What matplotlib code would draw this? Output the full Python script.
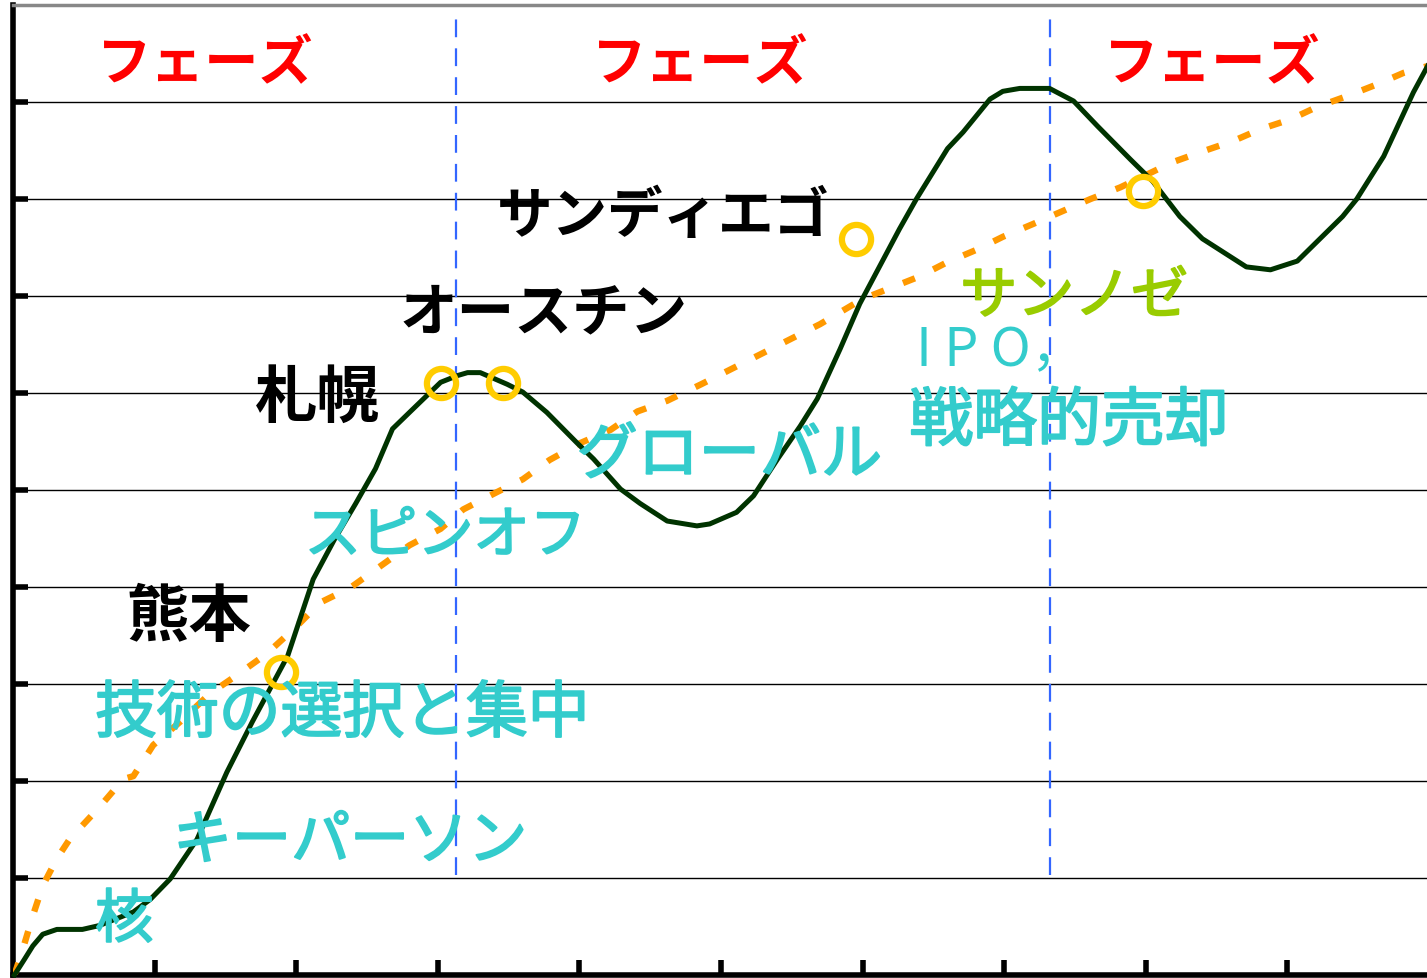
import matplotlib.pyplot as plt
import matplotlib.patheffects as pe

plt.rcParams['font.family'] = ['Noto Sans CJK JP', 'DejaVu Sans']

# growth curve (dark green)
growth_x = [0.01, 0.08, 0.14, 0.21, 0.31, 0.49, 0.61, 0.85, 0.97, 1.11, 1.30, 1.51,
            1.69, 1.94, 2.12, 2.27, 2.42, 2.56, 2.68, 2.80, 3.02, 3.14, 3.21, 3.30,
            3.49, 3.60, 3.77, 3.98, 4.10, 4.29, 4.43, 4.62, 4.83, 4.92, 5.11, 5.23,
            5.40, 5.56, 5.68, 5.84, 5.98, 6.10, 6.26, 6.38, 6.60, 6.71, 6.90, 6.99,
            7.11, 7.32, 7.49, 7.66, 7.89, 8.05, 8.24, 8.40, 8.71, 8.88, 9.07, 9.39,
            9.49, 9.68, 9.89, 9.99]
growth_y = [0.00, 0.16, 0.30, 0.42, 0.47, 0.47, 0.51, 0.65, 0.78, 0.99, 1.40, 2.09,
            2.61, 3.29, 4.08, 4.49, 4.86, 5.22, 5.63, 5.80, 6.11, 6.18, 6.21, 6.21,
            6.09, 6.01, 5.80, 5.49, 5.32, 5.01, 4.86, 4.68, 4.63, 4.65, 4.77, 4.94,
            5.32, 5.66, 5.94, 6.45, 6.92, 7.25, 7.69, 8.00, 8.52, 8.69, 9.03, 9.11,
            9.14, 9.14, 9.01, 8.75, 8.41, 8.18, 7.82, 7.59, 7.30, 7.27, 7.36, 7.82,
            8.00, 8.44, 9.10, 9.37]

# trend line (orange, dotted)
trend_x = [0.01, 0.07, 0.14, 0.21, 0.31, 0.40, 0.61, 0.78, 0.85, 0.99, 1.18, 1.39,
           1.58, 1.79, 2.00, 2.17, 2.38, 2.59, 2.80, 3.02, 3.18, 3.42, 3.60, 3.79,
           4.00, 4.22, 4.41, 4.62, 4.86, 5.28, 5.70, 6.00, 6.21, 6.40, 6.60, 6.81,
           6.99, 7.20, 7.42, 7.61, 7.82, 8.19, 8.40, 8.62, 8.81, 9.02, 9.21, 9.42,
           9.63, 9.82, 9.99]
trend_y = [0.00, 0.27, 0.61, 0.92, 1.20, 1.40, 1.73, 2.02, 2.05, 2.37, 2.61, 2.90,
           3.09, 3.31, 3.59, 3.84, 3.99, 4.21, 4.43, 4.60, 4.80, 4.98, 5.11, 5.31,
           5.48, 5.62, 5.81, 5.92, 6.09, 6.40, 6.71, 6.97, 7.09, 7.20, 7.35, 7.48,
           7.61, 7.74, 7.88, 8.00, 8.12, 8.38, 8.49, 8.60, 8.72, 8.82, 8.95, 9.06,
           9.18, 9.30, 9.37]

# highlighted points (hollow yellow circles)
mark_x = [1.89, 3.02, 3.46, 5.95, 7.98]
mark_y = [3.12, 6.10, 6.10, 7.59, 8.08]

phase_x = [3.13, 7.32]
phase_label = 'フェーズ'
phase_label_x = [1.36, 4.85, 8.47]

# city names (black)
cities = ['サンディエゴ', 'オースチン', '札幌', '熊本']
city_x = [3.42, 2.73, 1.71, 0.80]
city_y = [7.82, 6.83, 5.96, 3.70]
city_size = [40, 41.5, 45, 45]

# strategy keywords (cyan)
keywords = ['技術の選択と集中', 'キーパーソン', '核', 'スピンオフ', 'グローバル', '戦略的売却']
keyword_x = [0.58, 1.13, 0.58, 2.06, 3.98, 6.33]
keyword_y = [2.69, 1.37, 0.56, 4.52, 5.35, 5.70]
keyword_size = [44.5, 42.5, 42, 40.5, 44, 46]

fig = plt.figure(figsize=(14.27, 9.79), dpi=100)
ax = fig.add_axes([13 / 1427, 3 / 979, 1416 / 1427, 970 / 979])
ax.set_xlim(0, 10)
ax.set_ylim(0, 10)

ax.set_yticks(range(1, 10))
ax.set_xticks(range(1, 10))
ax.set_xticklabels([])
ax.set_yticklabels([])
ax.tick_params(direction='in', length=11, width=4, color='black')
ax.grid(axis='y', color='black', lw=1.0)
ax.set_axisbelow(True)
for side in ['left', 'bottom']:
    ax.spines[side].set_linewidth(4)
ax.spines['top'].set_color('#888888')
ax.spines['top'].set_linewidth(2.5)
ax.spines['right'].set_visible(False)

for x in phase_x:
    ax.plot([x, x], [1.03, 9.9], color='#3366FF', lw=1.6, ls=(0, (8, 5)))

ax.plot(trend_x, trend_y, color='#FF9900', lw=4.6, ls=(0, (2.0, 3.2)),
        solid_capstyle='butt', zorder=3)
ax.plot(growth_x, growth_y, color='#003300', lw=3.6, zorder=4, clip_on=False)
ax.plot(mark_x, mark_y, 'o', ms=21, mfc='none', mec='#FFCC00', mew=4.5, zorder=5)

for x in phase_label_x:
    ax.text(x, 9.40, phase_label, color='#FF0000', fontsize=39, fontweight='bold',
            ha='center', va='center', zorder=6)

for name, x, y, s in zip(cities, city_x, city_y, city_size):
    ax.text(x, y, name, color='black', fontsize=s, fontweight='bold',
            ha='left', va='center', zorder=6)

# slightly heavier than regular weight
medium = [pe.withStroke(linewidth=1.4, foreground='#33CCCC')]
for word, x, y, s in zip(keywords, keyword_x, keyword_y, keyword_size):
    ax.text(x, y, word, color='#33CCCC', fontsize=s,
            ha='left', va='center', zorder=6, path_effects=medium)

ax.text(6.38, 6.45, 'I P O，', color='#33CCCC', fontsize=39,
        ha='left', va='center', zorder=6)

ax.text(6.69, 6.99, 'サンノゼ', color='#99CC00', fontsize=41,
        ha='left', va='center', zorder=6,
        path_effects=[pe.withStroke(linewidth=1.4, foreground='#99CC00')])

fig.savefig('out.png', dpi=100)
